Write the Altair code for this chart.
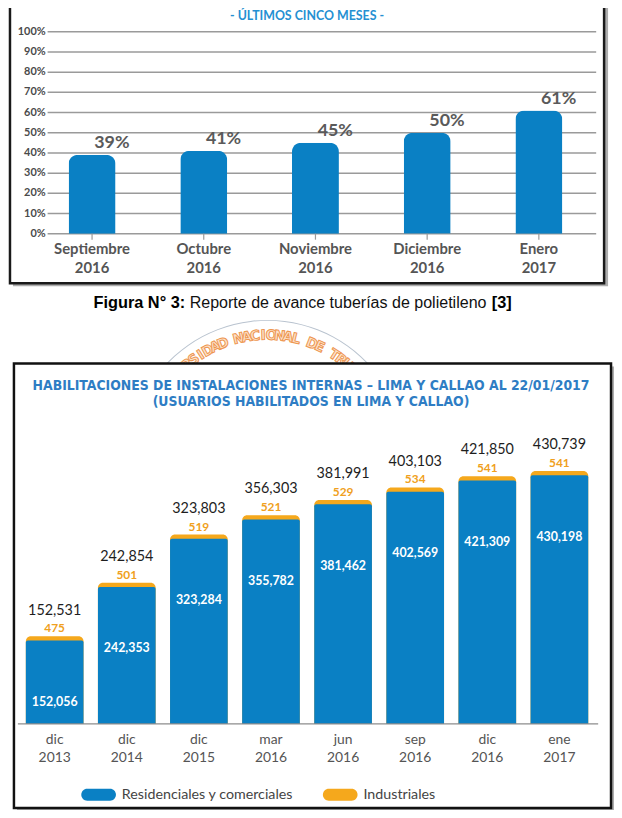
import altair as alt
import pandas as pd

# ---------------- data: chart 1 ----------------
titulo_1 = "- ÚLTIMOS CINCO MESES -"
meses_1 = ["Septiembre", "Octubre", "Noviembre", "Diciembre", "Enero"]
anios_1 = ["2016", "2016", "2016", "2016", "2017"]
avance_pct = [39, 41, 45, 50, 61]
ticks_pct = [0, 10, 20, 30, 40, 50, 60, 70, 80, 90, 100]

# ---------------- caption ----------------
caption_bold_1 = "Figura N° 3:"
caption_text = "Reporte de avance tuberías de polietileno"
caption_bold_2 = "[3]"

# ---------------- watermark ----------------
sello = "UNIVERSIDAD NACIONAL DE TRUJILLO"

# ---------------- data: chart 2 ----------------
titulo_2a = "HABILITACIONES DE INSTALACIONES INTERNAS – LIMA Y CALLAO AL 22/01/2017"
titulo_2b = "(USUARIOS HABILITADOS EN LIMA Y CALLAO)"
periodo_mes = ["dic", "dic", "dic", "mar", "jun", "sep", "dic", "ene"]
periodo_anio = ["2013", "2014", "2015", "2016", "2016", "2016", "2016", "2017"]
residenciales = [152056, 242353, 323284, 355782, 381462, 402569, 421309, 430198]
industriales = [475, 501, 519, 521, 529, 534, 541, 541]
series = ["Residenciales y comerciales", "Industriales"]
series_colors = ["#0A80C4", "#F5A81C"]

FONT_L = "Lato, sans-serif"
FONT_C = "DejaVu Sans Condensed, sans-serif"
FONT_A = "Liberation Sans, Arial, sans-serif"
BLUE = series_colors[0]
ORANGE = series_colors[1]

df1 = pd.DataFrame({
    "mes": meses_1,
    "anio": anios_1,
    "avance": avance_pct,
})
df1["cat"] = df1["mes"] + " " + df1["anio"]
df1["lbl"] = df1["avance"].astype(str) + "%"

dft = pd.DataFrame({"tick": ticks_pct})
dft["lbl"] = dft["tick"].astype(str) + "%"

df2 = pd.DataFrame({
    "mes": periodo_mes,
    "anio": periodo_anio,
    "res": residenciales,
    "ind": industriales,
})
df2["total"] = df2["res"] + df2["ind"]
df2["cat"] = df2["mes"] + " " + df2["anio"]

one = alt.Data(values=[{}])

# ---------------- chart 1 ----------------
x1 = alt.X("cat:N", sort=None, axis=None,
           scale=alt.Scale(range=[33, 588], paddingInner=0.58, paddingOuter=0.25))
y1s = alt.Scale(domain=[0, 100], range=[224, 20])

shadow1 = alt.Chart(one).mark_rect(color="#8a8a8a", opacity=0.7).encode(
    x=alt.value(5), x2=alt.value(606), y=alt.value(-20), y2=alt.value(277))
box1 = alt.Chart(one).mark_rect(fill="white", stroke="#1a1a1a", strokeWidth=2.5).encode(
    x=alt.value(2), x2=alt.value(602), y=alt.value(-20), y2=alt.value(274))
title1 = alt.Chart(one).mark_text(font=FONT_L, fontSize=12.5, fontWeight="bold",
                                  color="#2590D2").encode(
    x=alt.value(302), y=alt.value(4), text=alt.value(titulo_1))
grid1 = alt.Chart(dft).mark_rule(color="#9a9a9a", strokeWidth=1.5).encode(
    y=alt.Y("tick:Q", scale=y1s, axis=None), x=alt.value(40), x2=alt.value(594))
ylab1 = alt.Chart(dft).mark_text(font=FONT_L, fontSize=11, fontWeight="bold",
                                 color="#4a4a4a", align="right", baseline="middle").encode(
    y=alt.Y("tick:Q", scale=y1s, axis=None), x=alt.value(38), text="lbl:N")
bars1 = alt.Chart(df1).mark_bar(color=BLUE, cornerRadiusTopLeft=9,
                                cornerRadiusTopRight=9).encode(
    x=x1, y=alt.Y("avance:Q", scale=y1s, axis=None))
vlab1 = alt.Chart(df1).mark_text(font=FONT_L, fontSize=18, fontWeight="bold",
                                 color="#5a5a5a", dx=20, dy=-12).encode(
    x=x1, y=alt.Y("avance:Q", scale=y1s, axis=None), text="lbl:N")
tick1 = alt.Chart(df1).mark_rule(color="#9a9a9a", strokeWidth=1.2).encode(
    x=x1, y=alt.value(224), y2=alt.value(230))
xlab1a = alt.Chart(df1).mark_text(font=FONT_L, fontSize=15, fontWeight="bold",
                                  color="#555555").encode(
    x=x1, y=alt.value(239), text="mes:N")
xlab1b = alt.Chart(df1).mark_text(font=FONT_L, fontSize=15, fontWeight="bold",
                                  color="#555555").encode(
    x=x1, y=alt.value(259), text="anio:N")

c1 = alt.layer(shadow1, box1, title1, grid1, ylab1, bars1, vlab1, tick1, xlab1a, xlab1b)

# ---------------- caption ----------------
cap1 = alt.Chart(one).mark_text(font=FONT_A, fontSize=16.5, fontWeight="bold",
                                color="#000000", align="right").encode(
    x=alt.value(179), y=alt.value(294), text=alt.value(caption_bold_1))
cap2 = alt.Chart(one).mark_text(font=FONT_A, fontSize=16.2, color="#111111",
                                align="left").encode(
    x=alt.value(183.5), y=alt.value(294), text=alt.value(caption_text))
cap3 = alt.Chart(one).mark_text(font=FONT_A, fontSize=16.5, fontWeight="bold",
                                color="#000000", align="left").encode(
    x=alt.value(488.5), y=alt.value(294), text=alt.value(caption_bold_2))

# ---------------- watermark ----------------
dfw = pd.DataFrame({"ch": list(sello)})
dfw["i"] = range(len(dfw))
dfw["deg"] = (dfw["i"] - 15.5) * 3.85
dfw["rad"] = dfw["deg"] * 3.14159265 / 180.0
dfw["rot"] = dfw["deg"] % 360
water_arc = alt.Chart(one).mark_arc(color="#b9c3cf", theta=5.3, theta2=7.27,
                                    radius=140, radius2=139).encode(
    x=alt.value(262), y=alt.value(451))
water = alt.Chart(dfw).mark_text(font="DejaVu Sans", fontSize=14, fontWeight="bold",
                                 fill="#FCE2CA", stroke="#EE9650", strokeWidth=1,
                                 baseline="middle").encode(
    x=alt.value(262), y=alt.value(451),
    theta=alt.Theta("rad:Q", scale=None),
    radius=alt.value(124),
    angle=alt.Angle("rot:Q", scale=None),
    text="ch:N")

# ---------------- chart 2 ----------------
x2 = alt.X("cat:N", sort=None, axis=None,
           scale=alt.Scale(range=[10, 594], paddingInner=0.2, paddingOuter=0.11))
y2s = alt.Scale(domain=[12000, 490000], range=[719, 432], clamp=True, zero=False)

shadow2 = alt.Chart(one).mark_rect(color="#8a8a8a", opacity=0.7).encode(
    x=alt.value(9), x2=alt.value(612), y=alt.value(358), y2=alt.value(808))
box2 = alt.Chart(one).mark_rect(fill="white", stroke="#111111", strokeWidth=2.5).encode(
    x=alt.value(6), x2=alt.value(609), y=alt.value(355), y2=alt.value(804))
title2a = alt.Chart(one).mark_text(font=FONT_C, fontSize=14, fontWeight="bold",
                                   color="#2E7DC4").encode(
    x=alt.value(306), y=alt.value(378), text=alt.value(titulo_2a))
title2b = alt.Chart(one).mark_text(font=FONT_C, fontSize=14, fontWeight="bold",
                                   color="#2E7DC4").encode(
    x=alt.value(306), y=alt.value(394), text=alt.value(titulo_2b))

legend_path = ("M-0.657,-0.343 L0.657,-0.343 A0.343,0.343 0 0 1 0.657,0.343 "
               "L-0.657,0.343 A0.343,0.343 0 0 1 -0.657,-0.343 Z")
color2 = alt.Color(
    "serie:N",
    scale=alt.Scale(domain=series, range=series_colors),
    legend=alt.Legend(orient="none", legendX=74, legendY=773, direction="horizontal",
                      title=None, symbolType=legend_path, symbolSize=1225,
                      symbolStrokeWidth=0, symbolOpacity=1, labelFont=FONT_L,
                      labelFontSize=14.4, labelColor="#444444", labelOffset=6,
                      labelLimit=400, columnPadding=30, padding=0),
)

orange2 = alt.Chart(df2).transform_calculate(serie=f"'{series[1]}'").mark_bar(
    cornerRadiusTopLeft=5, cornerRadiusTopRight=5, yOffset=-4).encode(
    x=x2, y=alt.Y("total:Q", scale=y2s, axis=None), y2=alt.datum(12000),
    color=color2)
blue2 = alt.Chart(df2).transform_calculate(serie=f"'{series[0]}'").mark_bar(
    cornerRadiusTopLeft=2, cornerRadiusTopRight=2).encode(
    x=x2, y=alt.Y("res:Q", scale=y2s, axis=None), y2=alt.datum(12000),
    color=color2)
axis2 = alt.Chart(one).mark_rule(color="#8c8c8c", strokeWidth=1.5).encode(
    x=alt.value(10), x2=alt.value(596), y=alt.value(719))
wlab2 = alt.Chart(df2).mark_text(font=FONT_L, fontSize=12.5, fontWeight="bold",
                                 color="white", dy=62).encode(
    x=x2, y=alt.Y("res:Q", scale=y2s, axis=None), text=alt.Text("res:Q", format=",d"))
olab2 = alt.Chart(df2).mark_text(font=FONT_L, fontSize=12, fontWeight="bold",
                                 color="#F0A020", dy=-12).encode(
    x=x2, y=alt.Y("total:Q", scale=y2s, axis=None), text=alt.Text("ind:Q", format=",d"))
tlab2 = alt.Chart(df2).mark_text(font=FONT_L, fontSize=14.5, color="#1e1e1e",
                                 dy=-30).encode(
    x=x2, y=alt.Y("total:Q", scale=y2s, axis=None), text=alt.Text("total:Q", format=",d"))
xlab2a = alt.Chart(df2).mark_text(font=FONT_L, fontSize=14, color="#555555").encode(
    x=x2, y=alt.value(735), text="mes:N")
xlab2b = alt.Chart(df2).mark_text(font=FONT_L, fontSize=14, color="#555555").encode(
    x=x2, y=alt.value(753), text="anio:N")

c2 = alt.layer(shadow2, box2, title2a, title2b, orange2, blue2, axis2,
               wlab2, olab2, tlab2, xlab2a, xlab2b)

chart = alt.layer(c1, cap1, cap2, cap3, water_arc, water, c2).resolve_scale(
    x="independent", y="independent", color="independent"
).properties(
    width=612, height=802, padding=0,
    autosize=alt.AutoSizeParams(type="none"),
    background="white",
).configure_view(stroke=None)

chart.save("out.html", embed_options={"renderer": "svg", "actions": False})
